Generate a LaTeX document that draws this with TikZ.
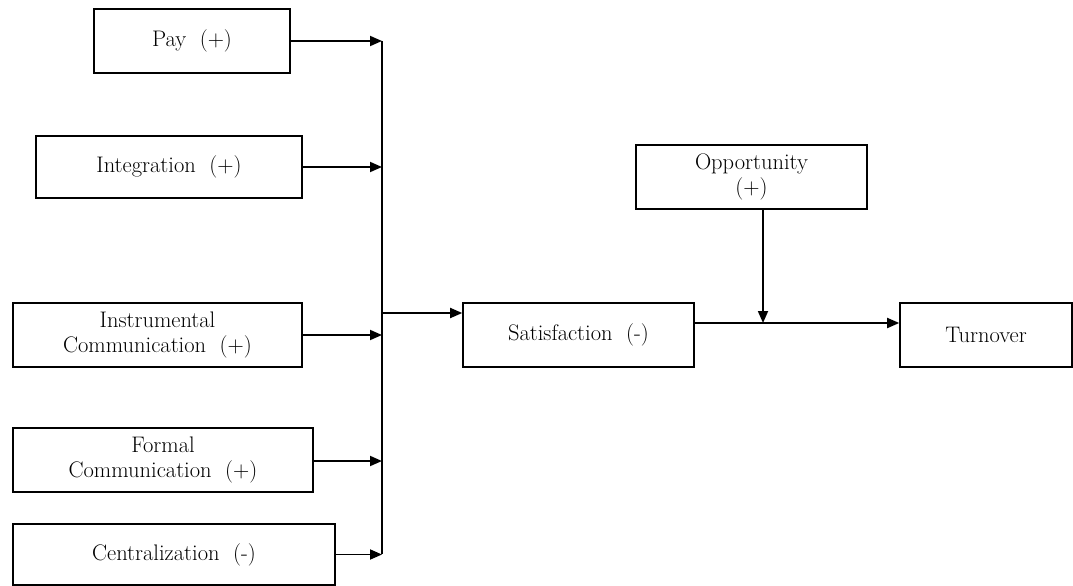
\documentclass[tikz,border=0pt]{standalone}
\usetikzlibrary{arrows.meta}
\begin{document}
\begin{tikzpicture}[x=1pt,y=-1pt,
  boxnode/.style={draw,line width=1.6pt,rectangle,inner sep=0pt,align=center,
    font=\fontsize{22.5}{25}\selectfont},
  conn/.style={line width=1.8pt},
  arr/.style={conn,-{Triangle[length=12pt,width=10pt]}}]
\useasboundingbox (0,0) rectangle (1073,586);
\node[boxnode,minimum width=196,minimum height=64] (pay) at (192,41) {Pay~~(+)};
\node[boxnode,minimum width=266,minimum height=62] (int) at (169,167) {Integration~~(+)};
\node[boxnode,minimum width=289,minimum height=64] (ins) at (157.5,335) {Instrumental\\Communication~~(+)};
\node[boxnode,minimum width=300,minimum height=64] (for) at (163,460) {Formal\\Communication~~(+)};
\node[boxnode,minimum width=322,minimum height=61] (cen) at (174,554.5) {Centralization~~(-)};
\node[boxnode,minimum width=231,minimum height=64] (sat) at (578.5,335) {Satisfaction~~(-)};
\node[boxnode,minimum width=231,minimum height=64] (opp) at (751.5,177) {Opportunity\\(+)};
\node[boxnode,minimum width=172,minimum height=64] (tur) at (986,335) {Turnover};
\coordinate (bt) at (382,41);
\coordinate (bb) at (382,554);
\coordinate (bs) at (382,313);
\coordinate (m) at (763,323);
\draw[conn] (bt) -- (bb);
\draw[arr] (pay.east) -- (pay.east -| bt);
\draw[arr] (int.east) -- (int.east -| bt);
\draw[arr] (ins.east) -- (ins.east -| bt);
\draw[arr] ([yshift=-1pt]for.east) -- ([yshift=-1pt]for.east -| bt);
\draw[arr] (cen.east) -- (cen.east -| bt);
\draw[arr] (bs) -- (bs -| sat.west);
\draw[arr] (m -| sat.east) -- (m -| tur.west);
\draw[arr] (opp.south -| m) -- (m);
\end{tikzpicture}
\end{document}
